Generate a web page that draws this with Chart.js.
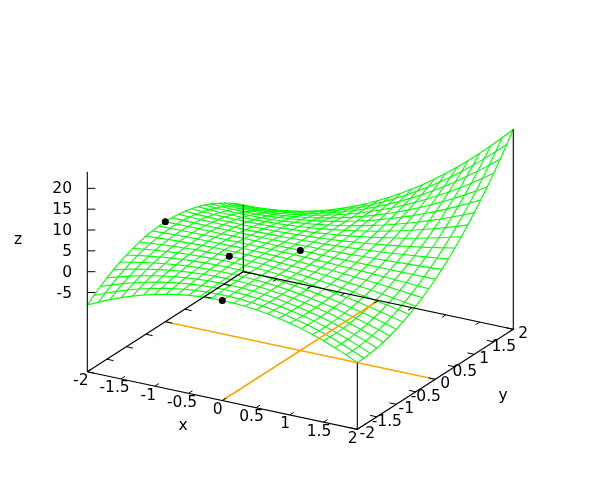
<!DOCTYPE html>
<html>
<head>
<meta charset="utf-8">
<script src="https://cdn.jsdelivr.net/npm/chart.js@4"></script>
<style>html,body{margin:0;background:#fff}canvas{display:block}</style>
</head>
<body>
<canvas id="c" width="600" height="500"></canvas>
<script>
const ticks = [-2, -1.5, -1, -0.5, 0, 0.5, 1, 1.5, 2];
const zTicks = [-5, 0, 5, 10, 15, 20];
const zMin = -24;
const zMax = 24;

// sample positions along x and y, step 1/6
const samples = [-2, -1.8333, -1.6667, -1.5, -1.3333, -1.1667, -1, -0.8333, -0.6667, -0.5, -0.3333, -0.1667, 0,
  0.1667, 0.3333, 0.5, 0.6667, 0.8333, 1, 1.1667, 1.3333, 1.5, 1.6667, 1.8333, 2];

// surface heights, one row per y sample, one column per x sample
const zGrid = [
  [-8,-6.72,-5.56,-4.5,-3.56,-2.72,-2,-1.39,-0.89,-0.5,-0.22,-0.06,0,-0.06,-0.22,-0.5,-0.89,-1.39,-2,-2.72,-3.56,-4.5,-5.56,-6.72,-8],
  [-6.72,-5.6,-4.58,-3.67,-2.85,-2.14,-1.53,-1.02,-0.61,-0.31,-0.1,0,0,-0.1,-0.31,-0.61,-1.02,-1.53,-2.14,-2.85,-3.67,-4.58,-5.6,-6.72,-7.94],
  [-5.56,-4.58,-3.7,-2.92,-2.22,-1.62,-1.11,-0.69,-0.37,-0.14,0,0.05,0,-0.14,-0.37,-0.69,-1.11,-1.62,-2.22,-2.92,-3.7,-4.58,-5.56,-6.62,-7.78],
  [-4.5,-3.67,-2.92,-2.25,-1.67,-1.17,-0.75,-0.42,-0.17,0,0.08,0.08,0,-0.17,-0.42,-0.75,-1.17,-1.67,-2.25,-2.92,-3.67,-4.5,-5.42,-6.42,-7.5],
  [-3.56,-2.85,-2.22,-1.67,-1.19,-0.78,-0.44,-0.19,0,0.11,0.15,0.11,0,-0.19,-0.44,-0.78,-1.19,-1.67,-2.22,-2.85,-3.56,-4.33,-5.19,-6.11,-7.11],
  [-2.72,-2.14,-1.62,-1.17,-0.78,-0.45,-0.19,0,0.13,0.19,0.19,0.13,0,-0.19,-0.45,-0.78,-1.17,-1.62,-2.14,-2.72,-3.37,-4.08,-4.86,-5.7,-6.61],
  [-2,-1.53,-1.11,-0.75,-0.44,-0.19,0,0.14,0.22,0.25,0.22,0.14,0,-0.19,-0.44,-0.75,-1.11,-1.53,-2,-2.53,-3.11,-3.75,-4.44,-5.19,-6],
  [-1.39,-1.02,-0.69,-0.42,-0.19,0,0.14,0.23,0.28,0.28,0.23,0.14,0,-0.19,-0.42,-0.69,-1.02,-1.39,-1.81,-2.27,-2.78,-3.33,-3.94,-4.58,-5.28],
  [-0.89,-0.61,-0.37,-0.17,0,0.13,0.22,0.28,0.3,0.28,0.22,0.13,0,-0.17,-0.37,-0.61,-0.89,-1.2,-1.56,-1.94,-2.37,-2.83,-3.33,-3.87,-4.44],
  [-0.5,-0.31,-0.14,0,0.11,0.19,0.25,0.28,0.28,0.25,0.19,0.11,0,-0.14,-0.31,-0.5,-0.72,-0.97,-1.25,-1.56,-1.89,-2.25,-2.64,-3.06,-3.5],
  [-0.22,-0.1,0,0.08,0.15,0.19,0.22,0.23,0.22,0.19,0.15,0.08,0,-0.1,-0.22,-0.36,-0.52,-0.69,-0.89,-1.1,-1.33,-1.58,-1.85,-2.14,-2.44],
  [-0.06,0,0.05,0.08,0.11,0.13,0.14,0.14,0.13,0.11,0.08,0.05,0,-0.06,-0.12,-0.19,-0.28,-0.37,-0.47,-0.58,-0.7,-0.83,-0.97,-1.12,-1.28],
  [0,0,0,0,0,0,0,0,0,0,0,0,0,0,0,0,0,0,0,0,0,0,0,0,0],
  [-0.06,-0.1,-0.14,-0.17,-0.19,-0.19,-0.19,-0.19,-0.17,-0.14,-0.1,-0.06,0,0.06,0.14,0.22,0.31,0.42,0.53,0.65,0.78,0.92,1.06,1.22,1.39],
  [-0.22,-0.31,-0.37,-0.42,-0.44,-0.45,-0.44,-0.42,-0.37,-0.31,-0.22,-0.12,0,0.14,0.3,0.47,0.67,0.88,1.11,1.36,1.63,1.92,2.22,2.55,2.89],
  [-0.5,-0.61,-0.69,-0.75,-0.78,-0.78,-0.75,-0.69,-0.61,-0.5,-0.36,-0.19,0,0.22,0.47,0.75,1.06,1.39,1.75,2.14,2.56,3,3.47,3.97,4.5],
  [-0.89,-1.02,-1.11,-1.17,-1.19,-1.17,-1.11,-1.02,-0.89,-0.72,-0.52,-0.28,0,0.31,0.67,1.06,1.48,1.94,2.44,2.98,3.56,4.17,4.81,5.5,6.22],
  [-1.39,-1.53,-1.62,-1.67,-1.67,-1.62,-1.53,-1.39,-1.2,-0.97,-0.69,-0.37,0,0.42,0.88,1.39,1.94,2.55,3.19,3.89,4.63,5.42,6.25,7.13,8.06],
  [-2,-2.14,-2.22,-2.25,-2.22,-2.14,-2,-1.81,-1.56,-1.25,-0.89,-0.47,0,0.53,1.11,1.75,2.44,3.19,4,4.86,5.78,6.75,7.78,8.86,10],
  [-2.72,-2.85,-2.92,-2.92,-2.85,-2.72,-2.53,-2.27,-1.94,-1.56,-1.1,-0.58,0,0.65,1.36,2.14,2.98,3.89,4.86,5.9,7,8.17,9.4,10.69,12.06],
  [-3.56,-3.67,-3.7,-3.67,-3.56,-3.37,-3.11,-2.78,-2.37,-1.89,-1.33,-0.7,0,0.78,1.63,2.56,3.56,4.63,5.78,7,8.3,9.67,11.11,12.63,14.22],
  [-4.5,-4.58,-4.58,-4.5,-4.33,-4.08,-3.75,-3.33,-2.83,-2.25,-1.58,-0.83,0,0.92,1.92,3,4.17,5.42,6.75,8.17,9.67,11.25,12.92,14.67,16.5],
  [-5.56,-5.6,-5.56,-5.42,-5.19,-4.86,-4.44,-3.94,-3.33,-2.64,-1.85,-0.97,0,1.06,2.22,3.47,4.81,6.25,7.78,9.4,11.11,12.92,14.81,16.81,18.89],
  [-6.72,-6.72,-6.62,-6.42,-6.11,-5.7,-5.19,-4.58,-3.87,-3.06,-2.14,-1.12,0,1.22,2.55,3.97,5.5,7.13,8.86,10.69,12.63,14.67,16.81,19.05,21.39],
  [-8,-7.94,-7.78,-7.5,-7.11,-6.61,-6,-5.28,-4.44,-3.5,-2.44,-1.28,0,1.39,2.89,4.5,6.22,8.06,10,12.06,14.22,16.5,18.89,21.39,24]
];

const dotsX = [-2, 0, 0, -0.6667];
const dotsY = [0, -2, 0, -0.6667];
const dotsZ = [0, 0, 0, 0.3];

// view 60,30 projection onto the page
const px = (x, y) => 300.3 + 67.5 * x + 39 * y;
const py = (x, y, z) => 350.5 + 14.4 * x - 25 * y - 4.167 * (z - zMin);
const pt = (x, y, z) => ({ x: px(x, y), y: py(x, y, z) });
const line = (data, color, width, order) => ({
  data,
  borderColor: color,
  borderWidth: width,
  showLine: true,
  pointRadius: 0,
  order
});

const black = "#000000";
const green = "#00ff00";
const orange = "#ffa500";
const datasets = [];

samples.forEach((y, j) => datasets.push(line(samples.map((x, i) => pt(x, y, zGrid[j][i])), green, 1.1, 3)));
samples.forEach((x, i) => datasets.push(line(samples.map((y, j) => pt(x, y, zGrid[j][i])), green, 1.1, 3)));

datasets.push(line([pt(0, -2, zMin), pt(0, 2, zMin)], orange, 1.5, 2));
datasets.push(line([pt(-2, 0, zMin), pt(2, 0, zMin)], orange, 1.5, 2));

datasets.push(line([pt(-2, -2, zMin), pt(2, -2, zMin), pt(2, 2, zMin), pt(-2, 2, zMin), pt(-2, -2, zMin)], black, 1.1, 1));
datasets.push(line([pt(-2, -2, zMin), pt(-2, -2, zMax)], black, 1.1, 1));
datasets.push(line([pt(2, -2, zMin), pt(2, -2, zGrid[0][24])], black, 1.1, 1));
datasets.push(line([pt(2, 2, zMin), pt(2, 2, zGrid[24][24])], black, 1.1, 1));
datasets.push(line([pt(-2, 2, zMin), pt(-2, 2, zGrid[24][0])], black, 1.1, 1));

ticks.forEach(t => {
  datasets.push(line([pt(t, -2, zMin), pt(t, -1.9, zMin)], black, 1, 1));
  datasets.push(line([pt(t, 2, zMin), pt(t, 1.9, zMin)], black, 1, 1));
  datasets.push(line([pt(-2, t, zMin), pt(-1.9, t, zMin)], black, 1, 1));
  datasets.push(line([pt(2, t, zMin), pt(1.9, t, zMin)], black, 1, 1));
});
zTicks.forEach(t => datasets.push(line([pt(-2, -2, t), { x: px(-2, -2) + 8, y: py(-2, -2, t) }], black, 1, 1)));

datasets.push({
  data: dotsX.map((x, i) => pt(x, dotsY[i], dotsZ[i])),
  pointRadius: 3.5,
  pointBackgroundColor: black,
  pointBorderWidth: 0,
  showLine: false,
  order: 0
});

const labels = {
  id: "labels",
  afterDraw(chart) {
    const { ctx, scales } = chart;
    const text = (s, x, y, align) => {
      ctx.textAlign = align || "center";
      ctx.fillText(s, scales.x.getPixelForValue(x), scales.y.getPixelForValue(y));
    };
    ctx.save();
    ctx.font = '15.5px "DejaVu Sans"';
    ctx.fillStyle = black;
    ctx.textBaseline = "middle";
    ticks.forEach(t => text(String(t), px(t, -2) + (t < 0 ? -6.5 : -4.5), py(t, -2, zMin) + 9.5));
    ticks.forEach(t => text(String(t), px(2, t) + 10, py(2, t, zMin) + 5));
    zTicks.forEach(t => text(String(t), 72, py(-2, -2, t) + 1, "right"));
    text("x", 183, 426);
    text("y", 503, 396);
    text("z", 18, 240);
    ctx.restore();
  }
};

new Chart(document.getElementById("c"), {
  type: "scatter",
  data: { datasets },
  plugins: [labels],
  options: {
    responsive: false,
    animation: false,
    layout: { padding: 0, autoPadding: false },
    plugins: { legend: { display: false }, tooltip: { enabled: false } },
    scales: {
      x: { type: "linear", min: 0, max: 600, display: false },
      y: { type: "linear", min: 0, max: 500, reverse: true, display: false }
    }
  }
});
</script>
</body>
</html>
